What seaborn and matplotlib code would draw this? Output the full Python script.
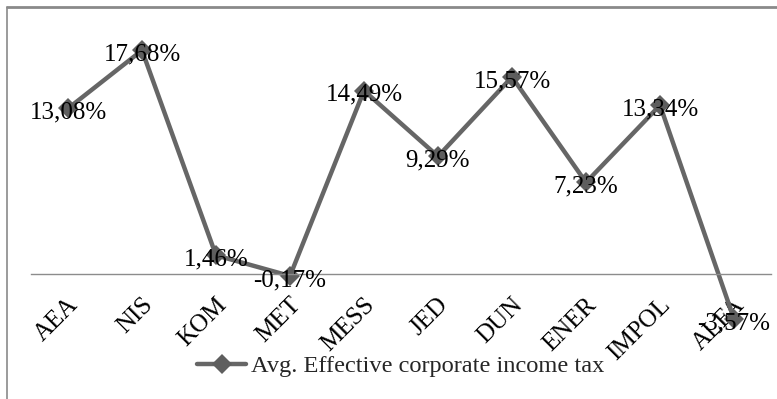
import matplotlib
matplotlib.use("Agg")
import matplotlib.pyplot as plt
import matplotlib.lines as mlines
import matplotlib.transforms as mtransforms
import seaborn as sns
import pandas as pd

categories = ["AEA", "NIS", "KOM", "MET", "MESS", "JED", "DUN", "ENER", "IMPOL", "ALFA"]
values = [13.08, 17.68, 1.46, -0.17, 14.49, 9.29, 15.57, 7.23, 13.34, -3.57]
labels = ["13,08%", "17,68%", "1,46%", "-0,17%", "14,49%", "9,29%", "15,57%", "7,23%", "13,34%", "-3,57%"]
series_name = "Avg. Effective corporate income tax"

sns.set_theme(style="white")
plt.rcParams["font.family"] = ["Liberation Serif", "DejaVu Serif"]

W, H = 777, 399
fig = plt.figure(figsize=(W / 100, H / 100), dpi=100)
ax = fig.add_axes([31 / W, (H - 337) / H, 740 / W, 316 / H])

df = pd.DataFrame({"cat": categories, "val": values})
line_color = "#666666"
sns.lineplot(data=df, x="cat", y="val", sort=False, ax=ax, color=line_color,
             linewidth=3.2, marker="D", markersize=10, markeredgewidth=0,
             markerfacecolor="#5e5e5e", label=series_name, legend=False)

for i, (v, t) in enumerate(zip(values, labels)):
    ax.annotate(t, (i, v), xytext=(0, -3), textcoords="offset points",
                ha="center", va="center", fontsize=18, color="#000000")

ax.set_xlim(-0.5, len(categories) - 0.5)
ax.set_ylim(-5, 20)
ax.set_xlabel("")
ax.set_ylabel("")
ax.set_yticks([])
for s in ["top", "right", "left"]:
    ax.spines[s].set_visible(False)
ax.spines["bottom"].set_position(("data", 0))
ax.spines["bottom"].set_color("#8c8c8c")
ax.spines["bottom"].set_linewidth(1.0)
ax.set_xticks(range(len(categories)))
ax.set_xticklabels(categories, rotation=45, ha="right", va="center",
                   rotation_mode="anchor", fontsize=18, color="#000000")
ax.tick_params(axis="x", length=0, pad=20)
shift = mtransforms.ScaledTranslation(7 / 100, 0, fig.dpi_scale_trans)
for lab in ax.get_xticklabels():
    lab.set_transform(lab.get_transform() + shift)
ax.patch.set_alpha(0)

handle = mlines.Line2D([], [], color=line_color, linewidth=3.2, marker="D",
                       markersize=10, markeredgewidth=0, markerfacecolor="#5e5e5e")
fig.legend([handle], [series_name], loc="center",
           bbox_to_anchor=(401 / W, 1 - 366 / H), frameon=False, fontsize=17.6,
           handlelength=2.0, handletextpad=0.2)

# outer border (top and left visible)
fig.add_artist(mlines.Line2D([7 / W, 1], [1 - 7 / H, 1 - 7 / H], color="#8a8a8a",
                             linewidth=2, transform=fig.transFigure))
fig.add_artist(mlines.Line2D([7 / W, 7 / W], [0, 1 - 7 / H], color="#8a8a8a",
                             linewidth=1.2, transform=fig.transFigure))

fig.savefig("out.png", dpi=100)
